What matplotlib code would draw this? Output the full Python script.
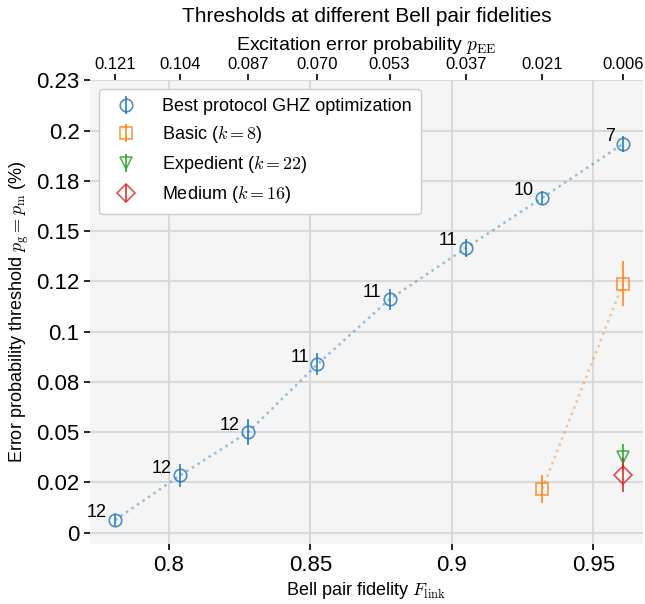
import matplotlib
matplotlib.use("Agg")
import matplotlib.pyplot as plt
import numpy as np

plt.rcParams['font.family'] = ['Liberation Sans', 'DejaVu Sans']
plt.rcParams['mathtext.fontset'] = 'cm'

# data
fid_best = [0.781, 0.804, 0.828, 0.8525, 0.878, 0.905, 0.932, 0.9605]
thr_best = [0.0063, 0.0285, 0.0500, 0.0838, 0.1161, 0.1416, 0.1666, 0.1934]
err_best = [0.003, 0.0056, 0.0066, 0.0054, 0.0052, 0.0045, 0.0035, 0.004]
k_best = ['12', '12', '12', '11', '11', '11', '10', '7']

fid_basic = [0.932, 0.9605]
thr_basic = [0.0217, 0.1239]
err_basic = [0.0069, 0.0113]

fid_exp = [0.9605]
thr_exp = [0.0376]
err_exp = [0.0065]

fid_med = [0.9605]
thr_med = [0.0285]
err_med = [0.0085]

p_ee_labels = ['0.121', '0.104', '0.087', '0.070', '0.053', '0.037', '0.021', '0.006']

y_ticks = np.arange(0, 0.2251, 0.025)
y_tick_labels = ['0', '0.02', '0.05', '0.08', '0.1', '0.12', '0.15', '0.18', '0.2', '0.23']
x_ticks = [0.8, 0.85, 0.9, 0.95]
x_tick_labels = ['0.8', '0.85', '0.9', '0.95']

fig = plt.figure(figsize=(6.45, 6.04), dpi=100)
ax = fig.add_axes([90 / 645, 1 - 544.3 / 604, (643 - 90) / 645, (544.3 - 80) / 604])
ax.set_facecolor('#f5f5f5')
for s in ax.spines.values():
    s.set_visible(False)
ax.grid(True, color='#d9d9d9', linewidth=1.5)
ax.set_axisbelow(True)

blue, orange, green, red = '#1f77b4', '#ff7f0e', '#2ca02c', '#d62728'

def series(x, y, e, c, m, lab, line=True):
    if line:
        ax.plot(x, y, ':', color=c, alpha=0.45, linewidth=1.8)
    ax.errorbar(x, y, yerr=e, fmt=m, color=c, mfc='none', mec=c, ms=9, mew=1.2,
                elinewidth=1.4, capsize=0, alpha=0.8, label=lab, linestyle='none')

series(fid_best, thr_best, err_best, blue, 'o', 'Best protocol GHZ optimization')
series(fid_basic, thr_basic, err_basic, orange, 's', r'Basic ($k=8$)')
series(fid_exp, thr_exp, err_exp, green, 'v', r'Expedient ($k=22$)', line=False)
series(fid_med, thr_med, err_med, red, 'D', r'Medium ($k=16$)', line=False)

for x, y, k in zip(fid_best, thr_best, k_best):
    ax.annotate(k, (x, y), xytext=(-6, -1), textcoords='offset points',
                ha='right', va='bottom', fontsize=13)

ax.set_xlim(0.7721, 0.9676)
ax.set_ylim(-0.0058, 0.2252)
ax.set_yticks(y_ticks)
ax.set_yticklabels(y_tick_labels)
ax.set_xticks(x_ticks)
ax.set_xticklabels(x_tick_labels)
ax.tick_params(axis='both', labelsize=16, length=4, width=1.2, color='black')

ax.set_xlabel(r'Bell pair fidelity $F_\mathrm{link}$', fontsize=13, labelpad=3)
ax.set_ylabel(r'Error probability threshold $p_\mathrm{g} = p_\mathrm{m}$ (%)', fontsize=13, labelpad=4)

top = ax.secondary_xaxis('top')
top.set_xticks(fid_best)
top.set_xticklabels(p_ee_labels)
top.tick_params(labelsize=12, length=4, width=1.2, color='black', pad=2)
for s in top.spines.values():
    s.set_visible(False)
top.set_xlabel(r'Excitation error probability $p_\mathrm{EE}$', fontsize=14, labelpad=5)

fig.text((90 + 643) / 2 / 645, 1 - 16 / 604, 'Thresholds at different Bell pair fidelities',
         ha='center', va='center', fontsize=15)

leg = ax.legend(loc='upper left', fontsize=13, frameon=True, facecolor='white',
                edgecolor='#cccccc', framealpha=1, handletextpad=1.0, borderpad=0.5)

fig.savefig('out.png', dpi=100)
